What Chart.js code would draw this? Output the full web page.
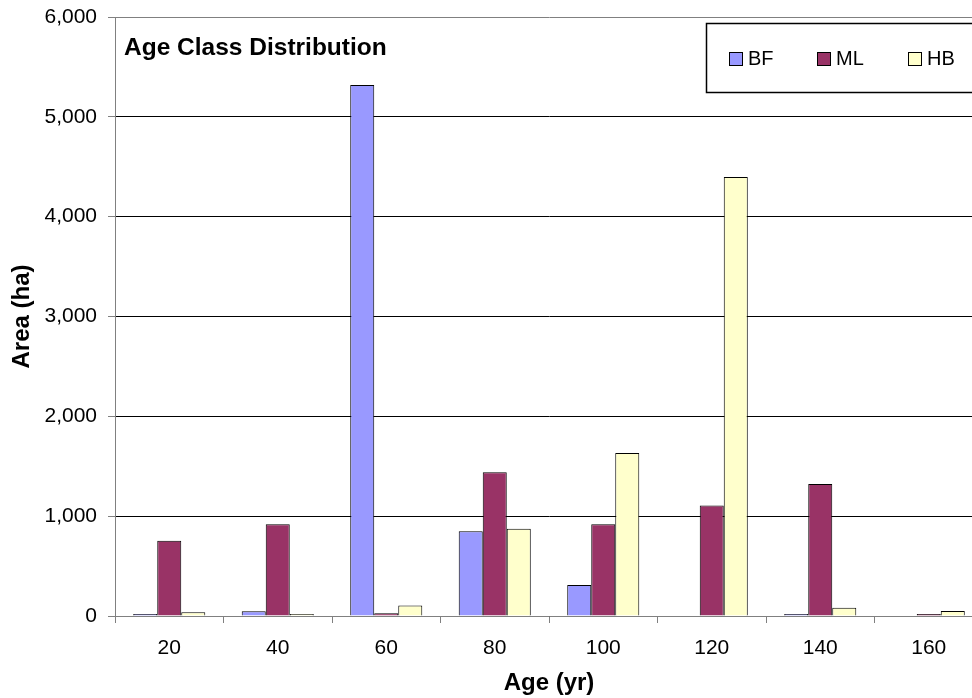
<!DOCTYPE html>
<html>
<head>
<meta charset="utf-8">
<script src="https://cdn.jsdelivr.net/npm/chart.js@4/dist/chart.umd.min.js"></script>
<style>
  html, body { margin: 0; padding: 0; background: #fff; overflow: hidden; }
  #wrap { width: 1000px; height: 698px; }
</style>
</head>
<body>
<div id="wrap"><canvas id="chart" width="1000" height="698"></canvas></div>
<script>
// Age classes (yr)
const ageClasses = ['20', '40', '60', '80', '100', '120', '140', '160'];

// Area (ha) per cover type (null = no area in that class)
const bfArea = [5, 47, 5320, 848, 310, null, 5, null];
const mlArea = [755, 920, 27, 1440, 920, 1108, 1322, 8];
const hbArea = [37, 8, 104, 875, 1632, 4398, 83, 50];

const seriesNames = ['BF', 'ML', 'HB'];
const seriesColors = ['#9999FF', '#993366', '#FFFFCC'];

const chartTitle = 'Age Class Distribution';

const FONT = 'Arial, "Liberation Sans", sans-serif';

// Title + boxed legend drawn inside the plot area
const overlayPlugin = {
    id: 'overlay',
    afterDraw(chart) {
        const ctx = chart.ctx;
        ctx.save();

        // title
        ctx.fillStyle = '#000';
        ctx.font = 'bold 24.5px ' + FONT;
        ctx.textBaseline = 'alphabetic';
        ctx.textAlign = 'left';
        ctx.fillText(chartTitle, 124, 55);

        // legend box
        ctx.fillStyle = '#fff';
        ctx.fillRect(706, 23, 300, 69);
        ctx.strokeStyle = '#000';
        ctx.lineWidth = 1.5;
        ctx.strokeRect(706.5, 23.5, 300, 69);

        const itemX = [729, 817, 908];
        ctx.font = '20px ' + FONT;
        ctx.textBaseline = 'middle';
        chart.data.datasets.forEach((ds, i) => {
            ctx.fillStyle = ds.backgroundColor;
            ctx.fillRect(itemX[i], 52, 13, 13);
            ctx.lineWidth = 1;
            ctx.strokeStyle = '#000';
            ctx.strokeRect(itemX[i] + 0.5, 52.5, 13, 13);
            ctx.fillStyle = '#000';
            ctx.fillText(ds.label, itemX[i] + 19, 59);
        });
        ctx.restore();
    }
};

const ctx = document.getElementById('chart').getContext('2d');

new Chart(ctx, {
    type: 'bar',
    data: {
        labels: ageClasses,
        datasets: [
            { label: seriesNames[0], data: bfArea, backgroundColor: seriesColors[0] },
            { label: seriesNames[1], data: mlArea, backgroundColor: seriesColors[1] },
            { label: seriesNames[2], data: hbArea, backgroundColor: seriesColors[2] }
        ].map(ds => Object.assign(ds, {
            borderColor: '#000',
            borderWidth: 1,
            minBarLength: 2,
            categoryPercentage: 0.664,
            barPercentage: 1
        }))
    },
    options: {
        responsive: false,
        animation: false,
        layout: { padding: { top: 17, right: 17, left: 0, bottom: 0 } },
        plugins: {
            legend: { display: false },
            tooltip: { enabled: false }
        },
        scales: {
            x: {
                afterFit: scale => {
                    scale.height = 82;
                    scale.paddingLeft = 0;
                    scale.paddingRight = 0;
                },
                grid: {
                    offset: true,
                    drawOnChartArea: false,
                    tickLength: 7,
                    tickColor: '#808080'
                },
                border: { color: '#808080', width: 1 },
                ticks: {
                    color: '#000',
                    font: { family: FONT, size: 21 },
                    padding: 13
                },
                title: {
                    display: true,
                    text: 'Age (yr)',
                    color: '#000',
                    font: { family: FONT, size: 24, weight: 'bold' },
                    padding: { top: 0, bottom: 0 }
                }
            },
            y: {
                min: 0,
                max: 6000,
                afterFit: scale => {
                    scale.width = 115;
                    scale.paddingTop = 0;
                    scale.paddingBottom = 0;
                },
                grid: {
                    color: ctx => ctx.tick && ctx.tick.value === 6000 ? '#808080' : '#000',
                    tickLength: 7,
                    tickColor: '#808080'
                },
                border: { color: '#808080', width: 1 },
                ticks: {
                    stepSize: 1000,
                    color: '#000',
                    font: { family: FONT, size: 21 },
                    padding: 11,
                    callback: v => v.toLocaleString('en-US')
                },
                title: {
                    display: true,
                    text: 'Area (ha)',
                    color: '#000',
                    font: { family: FONT, size: 24, weight: 'bold' },
                    padding: { top: 8, bottom: 0 }
                }
            }
        }
    },
    plugins: [overlayPlugin]
});
</script>
</body>
</html>
